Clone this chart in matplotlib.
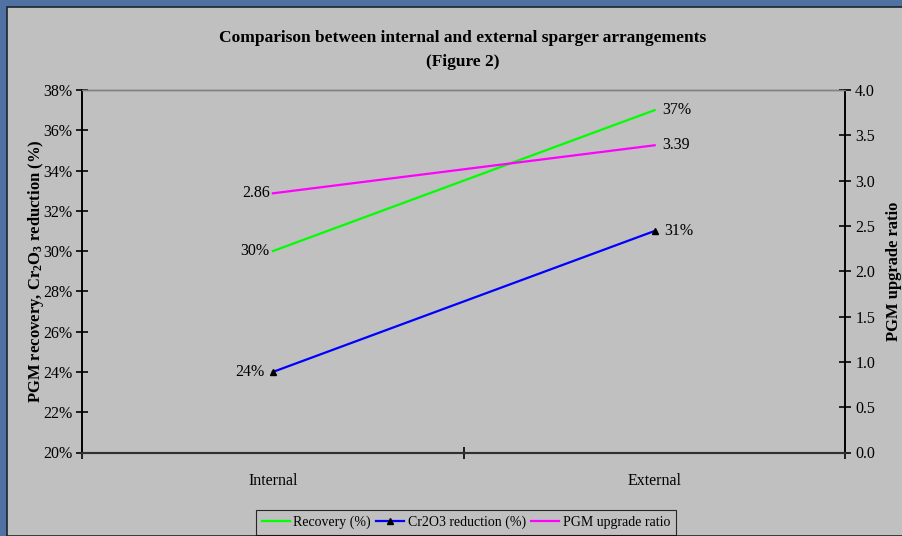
import matplotlib.pyplot as plt
from matplotlib.patches import Rectangle
from matplotlib.lines import Line2D
from matplotlib.ticker import FixedLocator, MultipleLocator, FuncFormatter

categories = ['Internal', 'External']
recovery = [30, 37]          # %
cr2o3_reduction = [24, 31]   # %
upgrade_ratio = [2.86, 3.39]

plt.rcParams['font.family'] = ['Liberation Serif', 'DejaVu Serif']
plt.rcParams['mathtext.fontset'] = 'custom'
plt.rcParams['mathtext.rm'] = 'Liberation Serif:bold'
plt.rcParams['mathtext.default'] = 'rm'

W, H = 903, 536
fig = plt.figure(figsize=(W / 100, H / 100), dpi=100)
fig.patch.set_facecolor('#4f72a3')

# grey chart frame over the slide background (drawn beneath the axes)
frame = Rectangle((7 / W, 0), 1 - 7 / W, 1 - 7 / H, transform=fig.transFigure,
                  facecolor='#c0c0c0', edgecolor='#1c2430', linewidth=1.2, zorder=-1)
fig.patches.append(frame)

left, right, top, bottom = 82, 845.5, 90, 452.5
ax = fig.add_axes([left / W, 1 - bottom / H, (right - left) / W, (bottom - top) / H])
ax.set_facecolor('#c0c0c0')
ax2 = ax.twinx()

x = [0.5, 1.5]
ax.set_xlim(0, 2)
ax.set_ylim(20, 38)
ax2.set_ylim(0, 4)

ax.plot(x, recovery, color='#00ff00', lw=1.6, zorder=3)
ax.plot(x, cr2o3_reduction, color='#0000ff', lw=1.6, marker='^', ms=5,
        mfc='black', mec='black', zorder=3)
ax2.plot(x, upgrade_ratio, color='#ff00ff', lw=1.6, zorder=3)

# value labels: left of the first point, right of the second
lab = dict(fontsize=11.5, va='center')
ax.text(x[0] - 0.008, recovery[0], '%d%%' % recovery[0], ha='right', **lab)
ax.text(x[1] + 0.02, recovery[1], '%d%%' % recovery[1], ha='left', **lab)
ax.text(x[0] - 0.022, cr2o3_reduction[0], '%d%%' % cr2o3_reduction[0], ha='right', **lab)
ax.text(x[1] + 0.025, cr2o3_reduction[1], '%d%%' % cr2o3_reduction[1], ha='left', **lab)
ax2.text(x[0] - 0.008, upgrade_ratio[0], '%.2f' % upgrade_ratio[0], ha='right', **lab)
ax2.text(x[1] + 0.02, upgrade_ratio[1], '%.2f' % upgrade_ratio[1], ha='left', **lab)

# category axis
ax.xaxis.set_major_locator(FixedLocator([0, 1, 2]))
ax.xaxis.set_minor_locator(FixedLocator(x))
ax.set_xticklabels(['', '', ''])
ax.set_xticklabels(categories, minor=True, fontsize=11.5)
ax.tick_params(axis='x', which='major', direction='inout', length=8, width=1.2)
ax.tick_params(axis='x', which='minor', length=0, pad=15)

ax.yaxis.set_major_locator(MultipleLocator(2))
ax.yaxis.set_major_formatter(FuncFormatter(lambda v, p: '%d%%' % round(v)))
ax.tick_params(axis='y', direction='inout', length=8, width=1.2, labelsize=11.5, pad=3)
ax2.yaxis.set_major_locator(MultipleLocator(0.5))
ax2.yaxis.set_major_formatter(FuncFormatter(lambda v, p: '%.1f' % v))
ax2.tick_params(axis='y', direction='inout', length=8, width=1.2, labelsize=11.5, pad=3)

for a in (ax, ax2):
    a.spines['top'].set_color('#808080')
    a.spines['top'].set_linewidth(1.0)
    a.spines['left'].set_linewidth(1.2)
    a.spines['right'].set_linewidth(1.2)
    a.spines['bottom'].set_linewidth(1.5)
    a.spines['bottom'].set_color('#303030')

ax.set_ylabel('PGM recovery, Cr$_2$O$_3$ reduction (%)', fontsize=12,
              fontweight='bold', labelpad=-2)
ax2.set_ylabel('PGM upgrade ratio', fontsize=12, fontweight='bold', labelpad=8)

fig.text(463 / W, 1 - 38 / H, 'Comparison between internal and external sparger arrangements',
         ha='center', va='center', fontsize=12.5, fontweight='bold')
fig.text(463 / W, 1 - 62 / H, '(Figure 2)', ha='center', va='center',
         fontsize=12.5, fontweight='bold')

handles = [
    Line2D([0], [0], color='#00ff00', lw=1.6),
    Line2D([0], [0], color='#0000ff', lw=1.6, marker='^', ms=5, mfc='black', mec='black'),
    Line2D([0], [0], color='#ff00ff', lw=1.6),
]
leg = fig.legend(handles, ['Recovery (%)', 'Cr2O3 reduction (%)', 'PGM upgrade ratio'],
                 loc='upper center', bbox_to_anchor=(466 / W, 1 - 503 / H), ncol=3,
                 fontsize=10, frameon=True, fancybox=False, handlelength=2.0,
                 handletextpad=0.25, columnspacing=0.4, borderpad=0.4,
                 facecolor='#c0c0c0', edgecolor='black')
leg.get_frame().set_linewidth(0.8)

fig.savefig('out.png', dpi=100, facecolor=fig.get_facecolor())
